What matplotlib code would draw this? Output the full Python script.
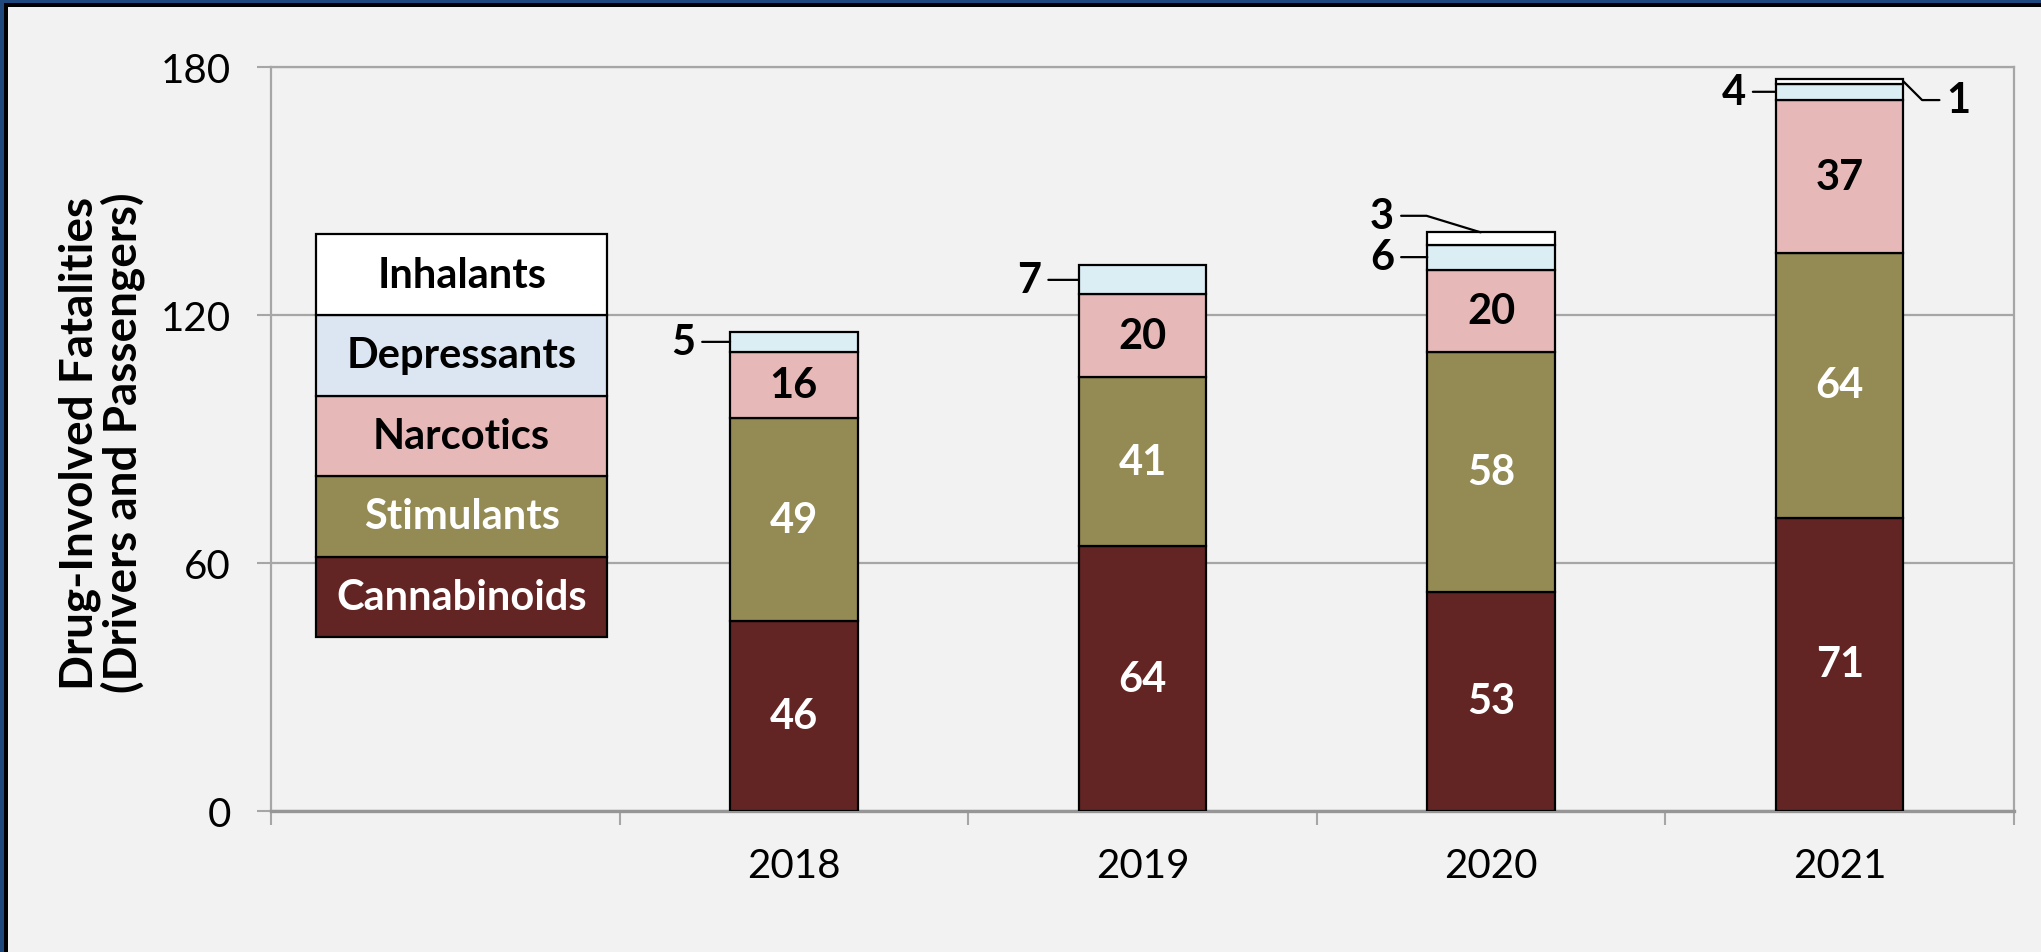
#!/usr/bin/env python3
"""Drug-involved fatalities by drug category, 2018-2021 (stacked bars)."""

import matplotlib
matplotlib.use("Agg")
import matplotlib.pyplot as plt
from matplotlib.patches import Rectangle

# data
years = ["2018", "2019", "2020", "2021"]
drug_classes = ["Cannabinoids", "Stimulants", "Narcotics", "Depressants", "Inhalants"]
cannabinoids = [46, 64, 53, 71]
stimulants = [49, 41, 58, 64]
narcotics = [16, 20, 20, 37]
depressants = [5, 7, 6, 4]
inhalants = [0, 0, 3, 1]
y_ticks = [0, 60, 120, 180]

series = [cannabinoids, stimulants, narcotics, depressants, inhalants]

# styles
bar_colors = ["#632523", "#948a54", "#e6b9b8", "#dbeef4", "#ffffff"]
legend_colors = ["#632523", "#948a54", "#e6b9b8", "#dce6f2", "#ffffff"]
text_colors = ["white", "white", "black", "black", "black"]
BG = "#f2f2f2"
GRID = "#a6a6a6"
FONT = "Lato"
LBL_SIZE = 30
TICK_SIZE = 29

W, H = 2041, 953
fig = plt.figure(figsize=(W / 100, H / 100), dpi=100, facecolor=BG)
ax = fig.add_axes([271 / W, 1 - 812 / H, (2014 - 271) / W, (812 - 68) / H])
ax.set_facecolor(BG)

# frame along top and left edge
fig.add_artist(Rectangle((0, 1 - 4 / H), 1, 4 / H, transform=fig.transFigure,
                         color="#1f497d", lw=0))
fig.add_artist(Rectangle((0, 0), 4 / W, 1, transform=fig.transFigure,
                         color="#1f497d", lw=0))
fig.add_artist(Rectangle((4 / W, 1 - 8 / H), 1, 4 / H, transform=fig.transFigure,
                         color="black", lw=0))
fig.add_artist(Rectangle((4 / W, 0), 4 / W, 1 - 4 / H, transform=fig.transFigure,
                         color="black", lw=0))

xs = list(range(1, len(years) + 1))
bar_w = 0.366
bottoms = [0] * len(years)
for k, vals in enumerate(series):
    for i, v in enumerate(vals):
        if v <= 0:
            continue
        ax.bar(xs[i], v, bar_w, bottom=bottoms[i], color=bar_colors[k],
               edgecolor="black", linewidth=1.6, zorder=3)
        if v >= 10:
            ax.text(xs[i], bottoms[i] + v / 2, str(v), ha="center", va="center",
                    fontsize=LBL_SIZE, fontweight="bold", color=text_colors[k],
                    family=FONT, zorder=4)
    bottoms = [b + v for b, v in zip(bottoms, vals)]

# small segments: labels with leader lines
line_kw = dict(arrowstyle="-", color="black", lw=1.6, shrinkA=3, shrinkB=0)
lbl_kw = dict(fontsize=LBL_SIZE, fontweight="bold", family=FONT, va="center", zorder=5)
dep_off = [0.10, 0.107, 0.095, 0.086]
for i, v in enumerate(depressants):
    base = cannabinoids[i] + stimulants[i] + narcotics[i]
    left = xs[i] - bar_w / 2
    ax.annotate(str(v), xy=(left, base + v / 2), xytext=(left - dep_off[i], base + v / 2),
                ha="right", arrowprops=line_kw, **lbl_kw)

# 2020 inhalants: label top left, leader to bar top
i = 2
ax.annotate(str(inhalants[i]), xy=(xs[i] - 0.03, bottoms[i]),
            xytext=(xs[i] - 0.278, bottoms[i] + 4), ha="right",
            arrowprops=dict(line_kw, connectionstyle="angle,angleA=0,angleB=163,rad=0"),
            **lbl_kw)
# 2021 inhalants: label to the right
i = 3
right = xs[i] + bar_w / 2
ax.annotate(str(inhalants[i]), xy=(right, bottoms[i] - inhalants[i] / 2),
            xytext=(right + 0.123, 172), ha="left",
            arrowprops=dict(line_kw, connectionstyle="angle,angleA=180,angleB=135,rad=0"),
            **lbl_kw)

# legend drawn as a stacked box in the first slot
leg_x, leg_w, leg_y0, leg_h = 0.047, 0.833, 42, 19.5
for k, name in enumerate(drug_classes):
    y0 = leg_y0 + k * leg_h
    ax.bar(leg_x, leg_h, leg_w, bottom=y0, color=legend_colors[k],
           edgecolor="black", linewidth=1.6, zorder=3)
    ax.text(leg_x, y0 + leg_h / 2, name, ha="center", va="center",
            fontsize=LBL_SIZE, fontweight="bold", color=text_colors[k],
            family=FONT, zorder=4)

# axes
ax.set_xlim(-0.5, len(years) + 0.5)
ax.set_ylim(0, 180)
ax.set_yticks(y_ticks)
ax.set_yticklabels([str(t) for t in y_ticks], family=FONT, fontsize=TICK_SIZE)
ax.set_xticks([0] + xs)
ax.set_xticklabels([""] + years, family=FONT, fontsize=TICK_SIZE)
ax.set_xticks([x - 0.5 for x in range(len(years) + 2)], minor=True)
ax.tick_params(axis="x", which="major", length=0, pad=26)
ax.tick_params(axis="x", which="minor", length=10, width=1.5, color=GRID)
ax.tick_params(axis="y", length=10, width=1.5, color=GRID, pad=19)
ax.yaxis.grid(True, color=GRID, linewidth=1.6, zorder=0)
ax.set_axisbelow(True)
for side in ["left", "right", "top"]:
    ax.spines[side].set_color(GRID)
    ax.spines[side].set_linewidth(1.6)
ax.spines["bottom"].set_color("#969696")
ax.spines["bottom"].set_linewidth(2.4)

fig.text(102 / W, 1 - 443 / H, "Drug-Involved Fatalities\n(Drivers and Passengers)",
         rotation=90, ha="center", va="center", multialignment="center",
         fontsize=33, fontweight="bold", family=FONT, linespacing=0.98)

fig.savefig("out.png", dpi=100, facecolor=BG)
